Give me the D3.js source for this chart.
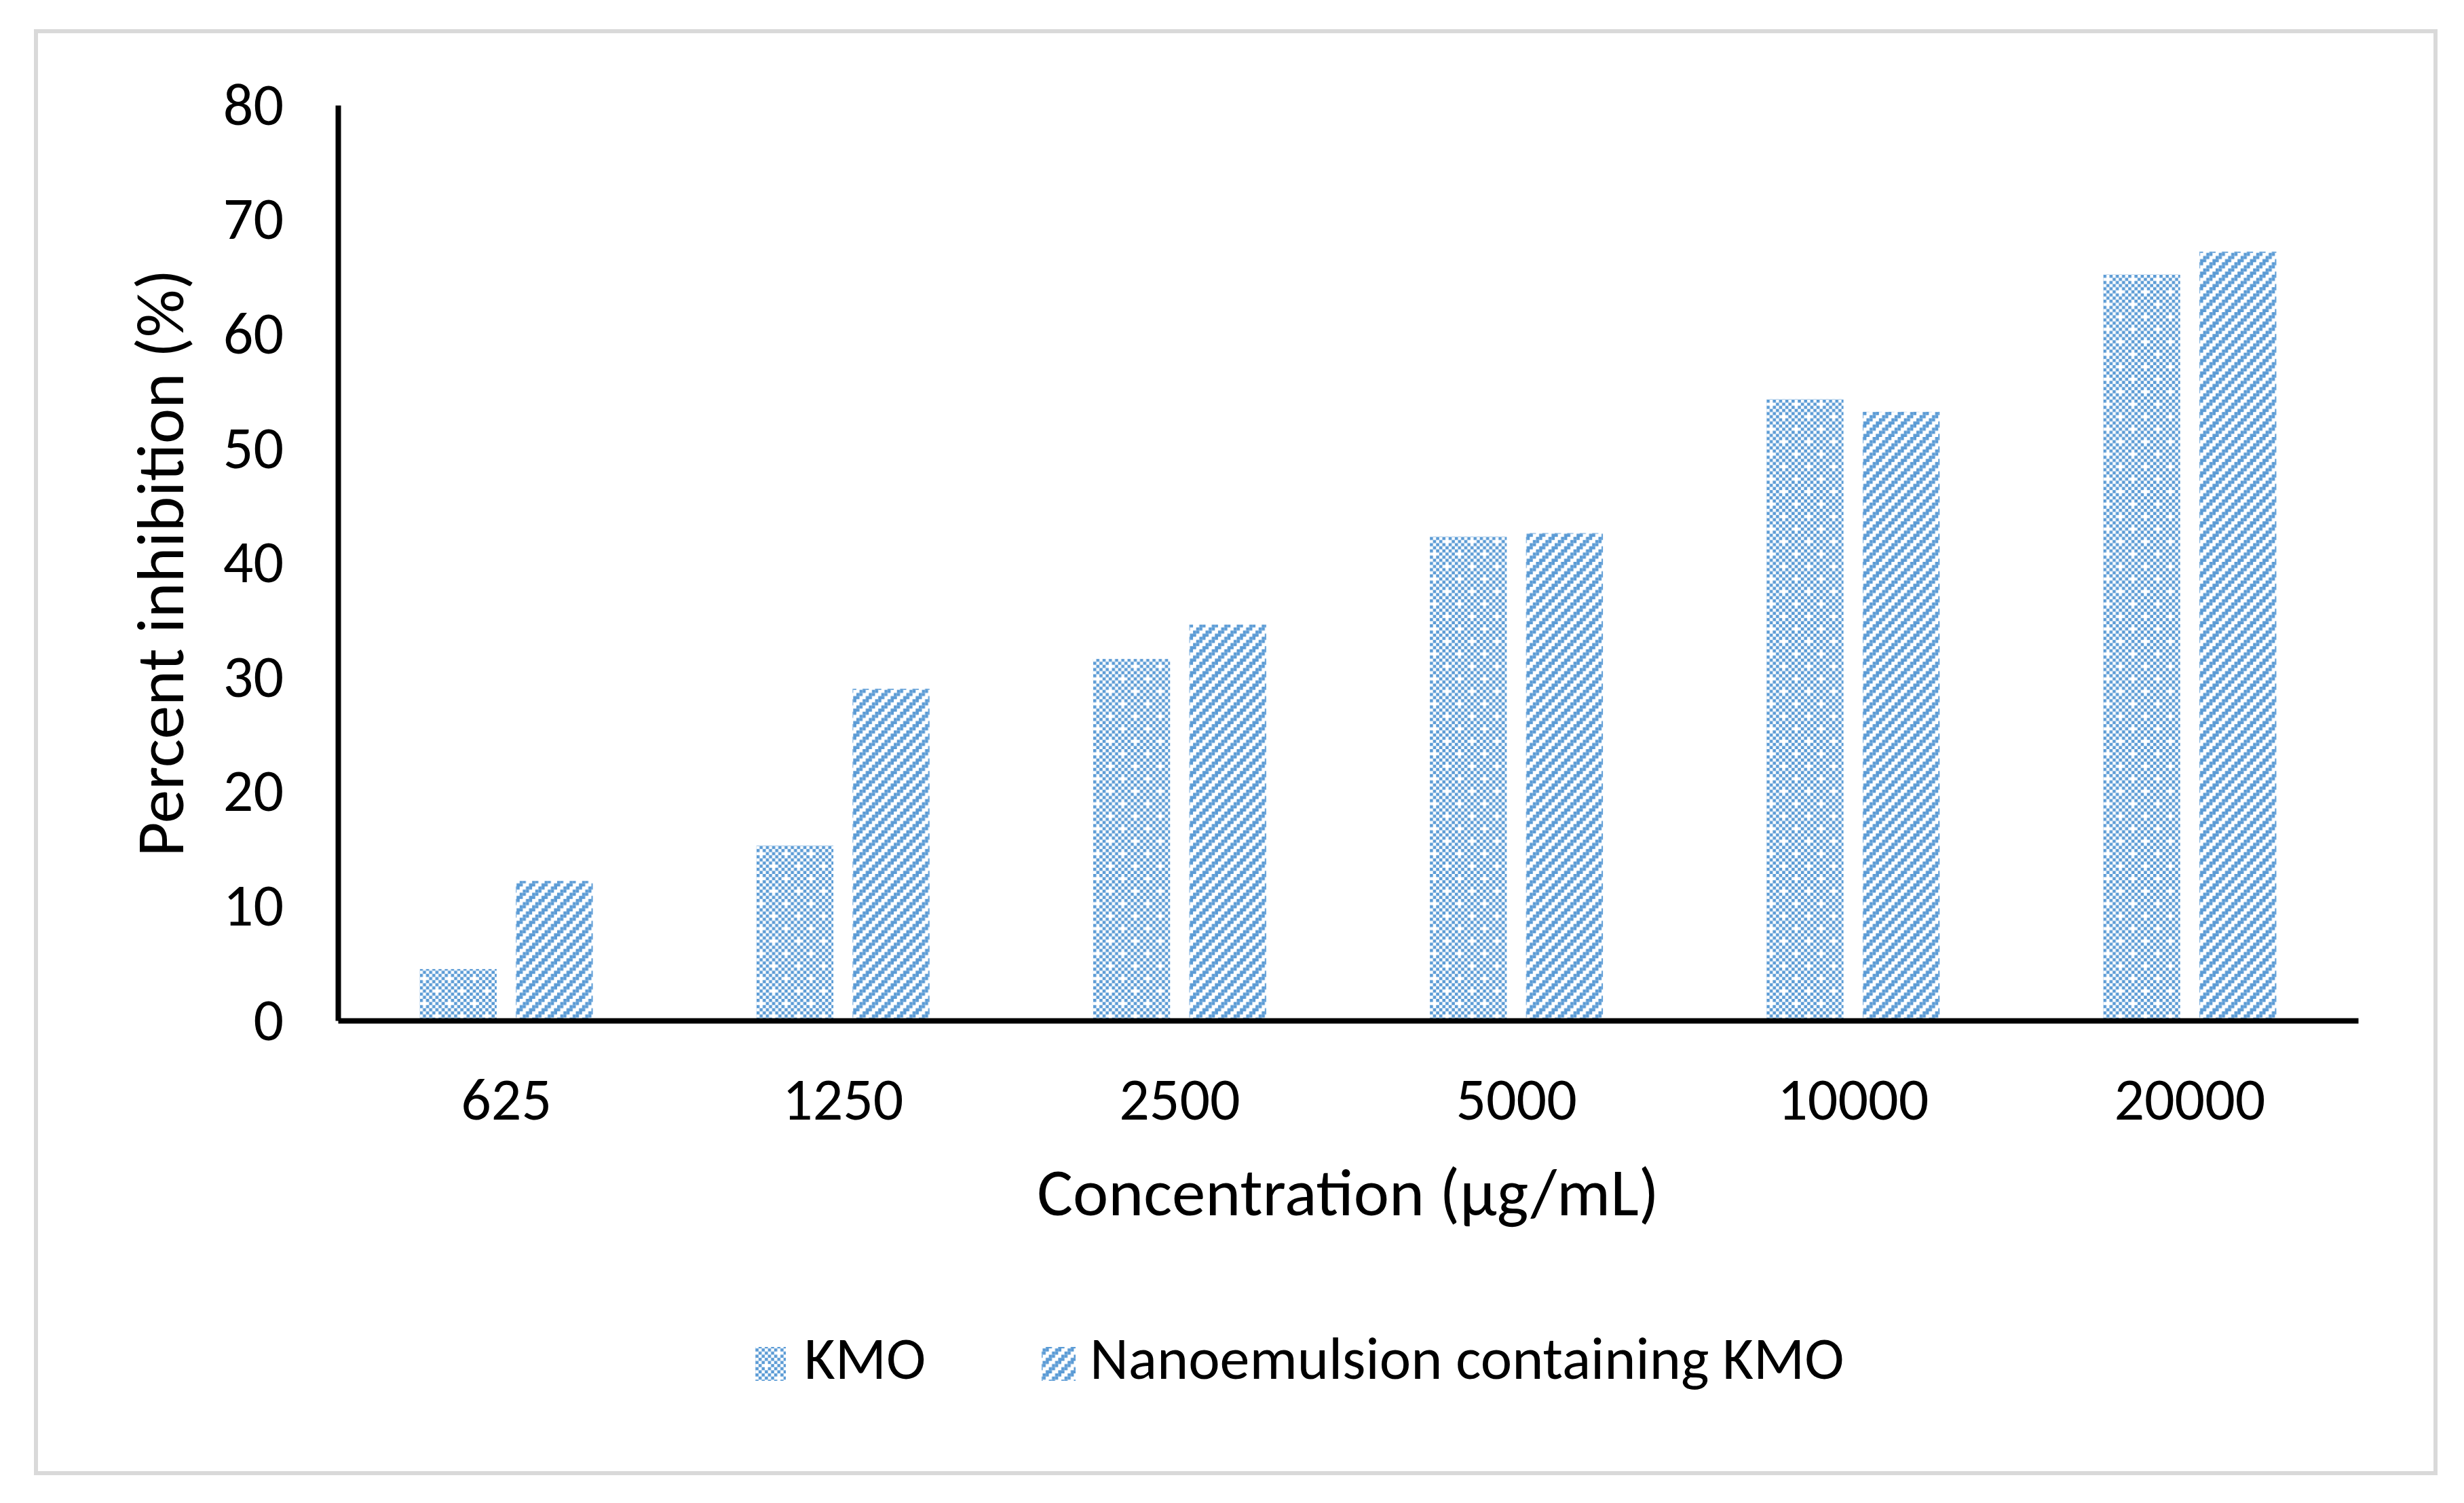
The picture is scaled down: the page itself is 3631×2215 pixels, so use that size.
<!DOCTYPE html>
<html>
<head>
<meta charset="utf-8">
<script src="https://cdn.jsdelivr.net/npm/d3@7"></script>
<style>
  body { margin: 0; background: #fff; }
  text { font-family: Carlito, Calibri, Lato, sans-serif; fill: #000; }
</style>
</head>
<body>
<script>
//Variables
const width = 3631;
const height = 2215;
const margin = { top: 155, right: 156, bottom: 711, left: 498 };
const blue = "#5b9bd5";

//Data
const categories = ["625", "1250", "2500", "5000", "10000", "20000"];
const seriesNames = ["KMO", "Nanoemulsion containing KMO"];
const kmoValues = [4.5, 15.3, 31.6, 42.3, 54.3, 65.2];
const nanoValues = [12.2, 29.0, 34.6, 42.6, 53.2, 67.2];
const yTicks = [0, 10, 20, 30, 40, 50, 60, 70, 80];

const rows = categories.map((c, i) => ({ cat: c, values: [kmoValues[i], nanoValues[i]] }));

//SVG creation
const svg = d3.select("body")
    .append("svg")
    .attr("width", width)
    .attr("height", height);

//Patterns (Excel style bitmaps)
const defs = svg.append("defs");
const cell = 4.6;

// dotted grid: checkerboard with a missing dot now and then
const dot = defs.append("pattern")
    .attr("id", "pat-kmo")
    .attr("patternUnits", "userSpaceOnUse")
    .attr("width", cell * 8)
    .attr("height", cell * 8);
const holes = ["1,1", "5,5"];
for (let r = 0; r < 8; r++) {
    for (let c = 0; c < 8; c++) {
        if ((r + c) % 2 === 0 && !holes.includes(r + "," + c)) {
            dot.append("rect")
                .attr("x", c * cell).attr("y", r * cell)
                .attr("width", cell).attr("height", cell)
                .attr("fill", blue);
        }
    }
}

// wide upward diagonal
const diag = defs.append("pattern")
    .attr("id", "pat-nano")
    .attr("patternUnits", "userSpaceOnUse")
    .attr("width", cell * 4)
    .attr("height", cell * 4);
for (let r = 0; r < 4; r++) {
    for (let c = 0; c < 4; c++) {
        if (((c + r) % 4) >= 2) {
            diag.append("rect")
                .attr("x", c * cell).attr("y", r * cell)
                .attr("width", cell).attr("height", cell)
                .attr("fill", blue);
        }
    }
}
const fills = ["url(#pat-kmo)", "url(#pat-nano)"];

//Outer frame
svg.append("rect")
    .attr("x", 53).attr("y", 46)
    .attr("width", 3536).attr("height", 2125)
    .attr("fill", "none")
    .attr("stroke", "#d9d9d9")
    .attr("stroke-width", 6);

//Scales
const x0 = d3.scaleBand()
    .domain(categories)
    .range([margin.left, width - margin.right])
    .paddingInner(0.486)
    .paddingOuter(0.243);

const x1 = d3.scaleBand()
    .domain([0, 1])
    .range([0, x0.bandwidth()])
    .paddingInner(0.2);

const yScale = d3.scaleLinear()
    .domain([0, 80])
    .range([height - margin.bottom, margin.top]);

//Bars
const groups = svg.append("g")
    .selectAll("g")
    .data(rows)
    .join("g")
    .attr("transform", d => `translate(${x0(d.cat)},0)`);

groups.selectAll("rect")
    .data(d => d.values.map((v, i) => ({ v, i })))
    .join("rect")
    .attr("x", d => x1(d.i))
    .attr("y", d => yScale(d.v))
    .attr("width", x1.bandwidth())
    .attr("height", d => yScale(0) - yScale(d.v))
    .attr("fill", d => fills[d.i]);

//yAxis
const yAxis = d3.axisLeft(yScale)
    .tickValues(yTicks)
    .tickSize(0)
    .tickSizeOuter(0)
    .tickPadding(80);

const gy = svg.append("g")
    .attr("transform", `translate(${margin.left}, 0)`)
    .call(yAxis);
gy.select(".domain").attr("stroke", "#000").attr("stroke-width", 8);
gy.selectAll("text").style("font-size", "88px");

//xAxis
const xAxis = d3.axisBottom(x0)
    .tickSize(0)
    .tickSizeOuter(0)
    .tickPadding(84);

const gx = svg.append("g")
    .attr("transform", `translate(0, ${height - margin.bottom})`)
    .call(xAxis);
gx.select(".domain").attr("stroke", "#000").attr("stroke-width", 8);
gx.selectAll("text").style("font-size", "88px");

//Axis titles
svg.append("text")
    .attr("x", (margin.left + width - margin.right) / 2)
    .attr("y", 1791)
    .attr("text-anchor", "middle")
    .style("font-size", "99px")
    .text("Concentration (µg/mL)");

svg.append("text")
    .attr("transform", `translate(270, ${(margin.top + height - margin.bottom) / 2}) rotate(-90)`)
    .attr("text-anchor", "middle")
    .style("font-size", "99px")
    .text("Percent inhibition (%)");

//Legend
const legendX = [1113, 1535];
const legendText = [1185, 1606];
const legend = svg.append("g");
seriesNames.forEach((name, i) => {
    legend.append("rect")
        .attr("x", legendX[i]).attr("y", 1985)
        .attr("width", i === 0 ? 45 : 50).attr("height", 50)
        .attr("fill", fills[i]);
    legend.append("text")
        .attr("x", legendText[i]).attr("y", 2032)
        .style("font-size", "88px")
        .text(name);
});
</script>
</body>
</html>
